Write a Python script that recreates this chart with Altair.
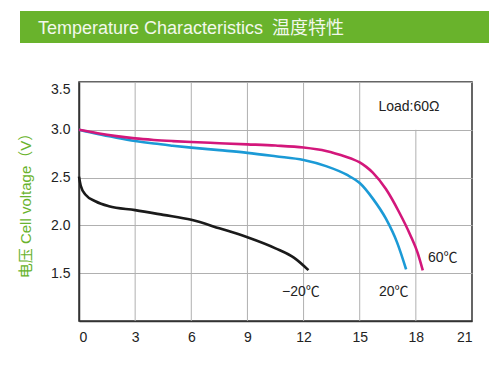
import altair as alt
import pandas as pd

# ---- data ----
x_60 = [0, 1, 2, 3, 4, 5, 6, 7.5, 9, 10.5, 12, 13.2, 14.3, 14.65, 15, 15.35, 15.7, 16.4, 17.1, 17.7, 18.1, 18.37]
y_60 = [3.00, 2.964, 2.934, 2.910, 2.894, 2.882, 2.872, 2.86, 2.848, 2.835, 2.814, 2.778, 2.715, 2.691, 2.659, 2.612, 2.552, 2.38, 2.14, 1.90, 1.71, 1.53]

x_20 = [0, 1, 2, 3, 4, 5, 6, 7.5, 9, 10.5, 12, 13.2, 14.3, 15, 15.7, 16.4, 17.0, 17.48]
y_20 = [3.00, 2.955, 2.917, 2.883, 2.856, 2.834, 2.814, 2.787, 2.759, 2.723, 2.684, 2.62, 2.53, 2.443, 2.28, 2.07, 1.82, 1.54]

x_m20 = [0, 0.1, 0.35, 0.9, 1.6, 3, 4.5, 6, 7.5, 9, 10.5, 11.5, 12.26]
y_m20 = [2.51, 2.41, 2.32, 2.25, 2.20, 2.16, 2.11, 2.058, 1.97, 1.876, 1.76, 1.66, 1.532]

series_names = ["−20℃", "20℃", "60℃"]
series_colors = ["#1a1a1a", "#1b9ad6", "#d3177b"]

x_ticks = [0, 3, 6, 9, 12, 15, 18, 21]
y_ticks = [1.5, 2.0, 2.5, 3.0, 3.5]

grid_x = [3, 6, 9, 12, 15, 18]
grid_top = [3.5, 3.5, 3.5, 3.5, 3.5, 3.0]

label_text = ["Load:60Ω", "60℃", "20℃", "−20℃"]
label_x = [16.0, 18.65, 16.03, 10.85]
label_y = [3.2, 1.62, 1.26, 1.26]

title_text = "Temperature Characteristics\u2002温度特性"
y_title = "电压 Cell voltage（V）"

GREEN = "#69b32c"

# ---- tables ----
lines_df = pd.concat([
    pd.DataFrame({"x": x_m20, "y": y_m20, "s": series_names[0], "o": range(len(x_m20))}),
    pd.DataFrame({"x": x_20, "y": y_20, "s": series_names[1], "o": range(len(x_20))}),
    pd.DataFrame({"x": x_60, "y": y_60, "s": series_names[2], "o": range(len(x_60))}),
])
grid_df = pd.DataFrame({"gx": grid_x, "g0": [1.0] * len(grid_x), "g1": grid_top})
labels_df = pd.DataFrame({"x": label_x, "y": label_y, "t": label_text})
banner_df = pd.DataFrame({"t": [title_text]})

xs = alt.Scale(domain=[0, 21], nice=False, zero=False)
ys = alt.Scale(domain=[1.0, 3.5], nice=False, zero=False)

FONT = "Liberation Sans, Arial, Noto Sans CJK SC"

x_axis = alt.Axis(values=x_ticks, grid=False, ticks=False, labelPadding=9, title=None,
                  labelFontSize=14, labelColor="#222", labelFont=FONT,
                  domainColor="#333", domainWidth=1.5)
y_axis = alt.Axis(values=y_ticks, format=".1f", grid=True, gridColor="#b0b0b0", gridWidth=1,
                  ticks=False, labelPadding=9, labelFlush=True,
                  labelFontSize=14, labelColor="#222", labelFont=FONT,
                  domainColor="#333", domainWidth=1.5,
                  title=y_title, titleColor=GREEN, titleFont=FONT, titleFontSize=15,
                  titleFontWeight="normal", titleAngle=270, titleBaseline="middle",
                  titleX=-54)

grid = alt.Chart(grid_df).mark_rule(color="#b0b0b0", strokeWidth=1).encode(
    x=alt.X("gx:Q", scale=xs, axis=x_axis),
    y=alt.Y("g0:Q", scale=ys, axis=y_axis),
    y2="g1:Q",
)

lines = alt.Chart(lines_df).mark_line(strokeWidth=2.6, interpolate="monotone").encode(
    x=alt.X("x:Q", scale=xs),
    y=alt.Y("y:Q", scale=ys),
    color=alt.Color("s:N", scale=alt.Scale(domain=series_names, range=series_colors), legend=None),
    order="o:Q",
)

labels = alt.Chart(labels_df).mark_text(
    align="left", baseline="alphabetic", fontSize=14, font=FONT, color="#222"
).encode(
    x=alt.X("x:Q", scale=xs),
    y=alt.Y("y:Q", scale=ys),
    text="t:N",
)

banner = alt.Chart(banner_df).mark_rect(color=GREEN).encode(
    x=alt.value(-59), x2=alt.value(410), y=alt.value(-71), y2=alt.value(-39)
)
banner_text = alt.Chart(banner_df).mark_text(
    align="left", baseline="alphabetic", fontSize=18, font=FONT, color="#f2f8ec"
).encode(
    x=alt.value(-41), y=alt.value(-48), text="t:N"
)

chart = alt.layer(grid, lines, labels, banner, banner_text).properties(
    width=393, height=239,
    padding={"left": 71, "top": 74, "right": 19, "bottom": 40},
    autosize=alt.AutoSizeParams(type="none"),
    background="white",
).configure_view(stroke="#333", strokeWidth=1.5)

chart.save("out.html", embed_options={"renderer": "svg", "actions": False})
